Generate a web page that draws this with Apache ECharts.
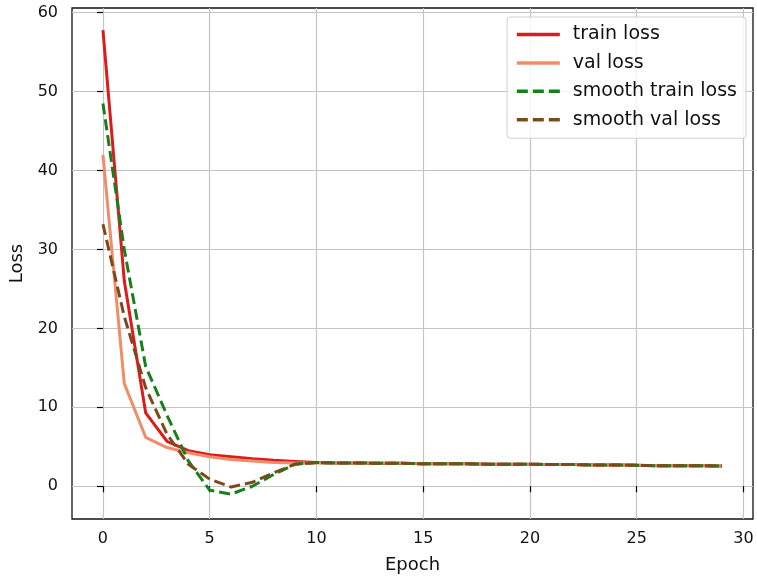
<!DOCTYPE html>
<html>
<head>
<meta charset="utf-8">
<script src="https://cdn.jsdelivr.net/npm/echarts@6/dist/echarts.min.js"></script>
<style>html,body{margin:0;padding:0;background:#fff;}#c{width:757px;height:580px;}</style>
</head>
<body>
<div id="c"></div>
<script>
const epochs = [0,1,2,3,4,5,6,7,8,9,10,11,12,13,14,15,16,17,18,19,20,21,22,23,24,25,26,27,28,29];
const trainLoss = [57.8, 26.0, 9.3, 5.7, 4.5, 4.0, 3.75, 3.5, 3.3, 3.15, 3.0, 2.95, 2.95, 2.9, 2.9, 2.85, 2.85, 2.85, 2.8, 2.8, 2.8, 2.75, 2.75, 2.7, 2.7, 2.65, 2.6, 2.6, 2.6, 2.55];
const valLoss = [42.0, 13.0, 6.2, 4.9, 4.25, 3.75, 3.4, 3.2, 3.0, 2.95, 2.95, 2.95, 2.9, 2.9, 2.9, 2.85, 2.85, 2.85, 2.8, 2.8, 2.75, 2.75, 2.75, 2.7, 2.7, 2.65, 2.6, 2.6, 2.6, 2.55];
const smoothTrainLoss = [48.5, 30.0, 15.2, 9.0, 3.2, -0.5, -1.0, 0.0, 1.5, 2.8, 3.0, 2.95, 2.95, 2.9, 2.9, 2.85, 2.85, 2.85, 2.8, 2.8, 2.8, 2.75, 2.75, 2.7, 2.7, 2.65, 2.6, 2.6, 2.6, 2.55];
const smoothValLoss = [33.2, 21.5, 12.5, 6.6, 2.8, 0.9, -0.1, 0.5, 1.7, 2.8, 3.0, 2.95, 2.95, 2.9, 2.9, 2.85, 2.85, 2.85, 2.8, 2.8, 2.8, 2.75, 2.75, 2.7, 2.7, 2.65, 2.6, 2.6, 2.6, 2.55];
const xTicks = [0, 5, 10, 15, 20, 25, 30];
const yTicks = [0, 10, 20, 30, 40, 50, 60];

const FONT = 'DejaVu Sans';
const pair = a => a.map((v, i) => [epochs[i], v]);

const chart = echarts.init(document.getElementById('c'), null, {renderer: 'canvas'});
const axisCommon = {
  axisLine: {show: false},
  axisTick: {show: true, inside: false, length: 6, lineStyle: {color: '#000', width: 1.2}},
  splitLine: {show: true, lineStyle: {color: '#c4c4c4', width: 1.2}},
  nameTextStyle: {fontFamily: FONT, fontSize: 18, color: '#111'},
};
chart.setOption({
  animation: false,
  backgroundColor: '#fff',
  grid: {left: 70, right: 4, top: 8, bottom: 61, show: true, borderColor: '#111', borderWidth: 1.3, backgroundColor: 'transparent'},
  xAxis: Object.assign({}, axisCommon, {
    type: 'value', min: -1.45, max: 30.45,
    name: 'Epoch', nameLocation: 'middle', nameGap: 37,
    axisTick: Object.assign({}, axisCommon.axisTick, {customValues: xTicks}),
    axisLabel: {customValues: xTicks, margin: 12, fontFamily: FONT, fontSize: 16, color: '#111'},
  }),
  yAxis: Object.assign({}, axisCommon, {
    type: 'value', min: -4.15, max: 60.6,
    name: 'Loss', nameLocation: 'middle', nameGap: 46, nameRotate: 90,
    axisTick: Object.assign({}, axisCommon.axisTick, {customValues: yTicks}),
    axisLabel: {customValues: yTicks, margin: 14, fontFamily: FONT, fontSize: 16, color: '#111'},
  }),
  legend: {
    orient: 'vertical', right: 11, top: 17,
    itemWidth: 43, itemHeight: 20, itemGap: 9.4,
    padding: [8, 9, 9, 8],
    itemStyle: {opacity: 0},
    lineStyle: {width: 3.5},
    backgroundColor: 'rgba(255,255,255,0.85)', borderColor: '#cfcfcf', borderWidth: 1, borderRadius: 3,
    textStyle: {fontFamily: FONT, fontSize: 19, color: '#111', padding: [0, 0, 0, 8]},
    data: ['train loss', 'val loss', 'smooth train loss', 'smooth val loss'],
  },
  series: [
    {name: 'train loss', type: 'line', data: pair(trainLoss), symbol: 'none', color: '#dc1b1b', lineStyle: {width: 3, color: '#dc1b1b'}, z: 2},
    {name: 'val loss', type: 'line', data: pair(valLoss), symbol: 'none', color: '#f08c68', lineStyle: {width: 3, color: '#f08c68'}, z: 3},
    {name: 'smooth train loss', type: 'line', data: pair(smoothTrainLoss), symbol: 'none', color: '#17801c', lineStyle: {width: 3, color: '#17801c', type: [11, 5]}, z: 4},
    {name: 'smooth val loss', type: 'line', data: pair(smoothValLoss), symbol: 'none', color: '#7a4a1c', lineStyle: {width: 3, color: '#7a4a1c', type: [11, 5]}, z: 5},
  ],
});
</script>
</body>
</html>
